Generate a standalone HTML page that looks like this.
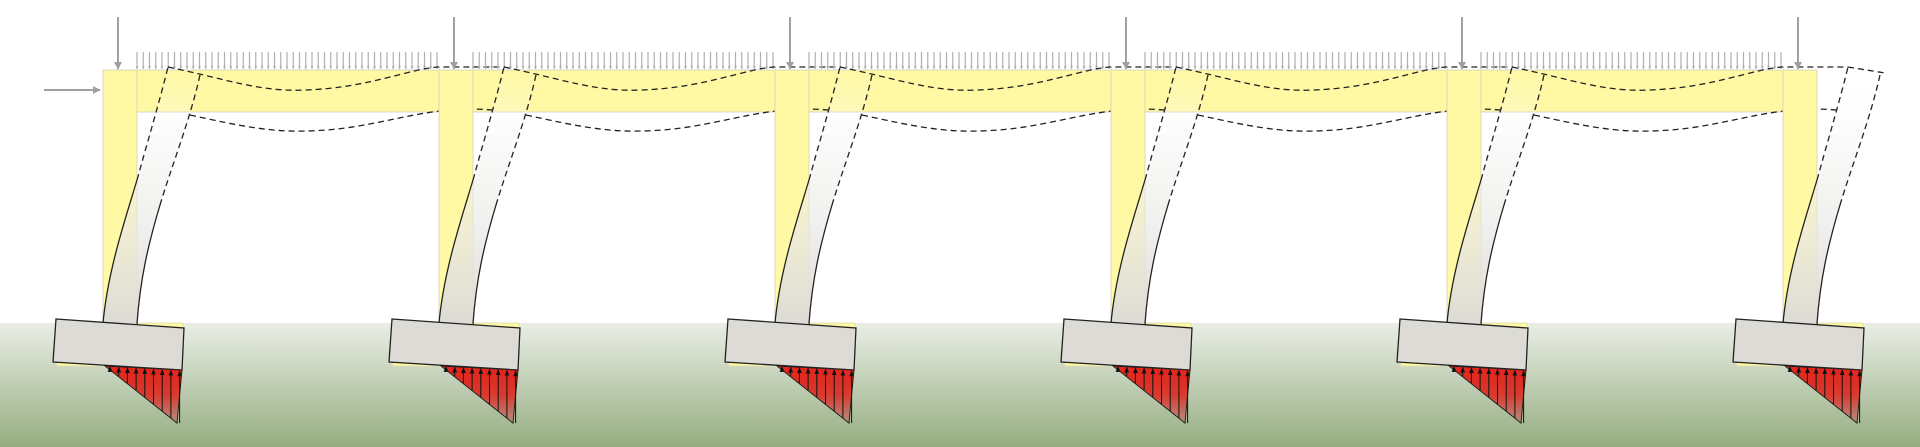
<!DOCTYPE html>
<html><head><meta charset="utf-8"><style>
html,body{margin:0;padding:0;background:#fff;width:1920px;height:447px;overflow:hidden}
svg{display:block}
</style></head><body>
<svg id="s" width="1920" height="447" viewBox="0 0 1920 447" xmlns="http://www.w3.org/2000/svg">
<defs>
<linearGradient id="gr" x1="0" y1="0" x2="0" y2="1">
<stop offset="0" stop-color="#eaeee6"/><stop offset="1" stop-color="#95ad80"/></linearGradient>
<linearGradient id="col" x1="0" y1="0" x2="0" y2="1">
<stop offset="0" stop-color="#ffffff" stop-opacity="0"/><stop offset="0.35" stop-color="#f2f2f0" stop-opacity="0.5"/><stop offset="1" stop-color="#dddbd5"/></linearGradient>
<linearGradient id="red" x1="0" y1="0" x2="0" y2="1">
<stop offset="0" stop-color="#e3231c"/><stop offset="0.5" stop-color="#d8392e"/><stop offset="1" stop-color="#b59080"/></linearGradient>
<marker id="ga" viewBox="0 0 10 10" refX="9" refY="5" markerWidth="4" markerHeight="4" orient="auto"><path d="M0,0L10,5L0,10z" fill="#a0a0a0"/></marker>
<marker id="gs" viewBox="0 0 10 10" refX="9" refY="5" markerWidth="3" markerHeight="3" orient="auto"><path d="M0,1L10,5L0,9z" fill="#b0b0b0"/></marker>
<marker id="ba" viewBox="0 0 10 10" refX="9" refY="5" markerWidth="6" markerHeight="6" orient="auto"><path d="M0,1L10,5L0,9z" fill="#111"/></marker>
</defs>
<rect x="0" y="323" width="1920" height="124" fill="url(#gr)"/>
<g id="g"></g>
</svg>
<script>
var g=document.getElementById('g'),h='';
h+='<rect x="103" y="70" width="1714" height="42" fill="#fff9a4" stroke="#d8d8c0" stroke-width="1"/>';
h+='<line x1="44" y1="90" x2="100" y2="90" stroke="#a0a0a0" stroke-width="2" marker-end="url(#ga)"/>';
for(var i=0;i<6;i++){var d=i*336;
 h+='<g transform="translate('+d+',0)">';
 h+='<rect x="103" y="70" width="34" height="255" fill="#fff9a4" stroke="#d8d8c0" stroke-width="1"/>';
 h+='<rect x="57" y="323" width="126" height="43" fill="#fff9a4" stroke="#e0e0b0" stroke-width="1"/>';
 h+='<line x1="118" y1="17" x2="118" y2="69" stroke="#a0a0a0" stroke-width="2" marker-end="url(#ga)"/>';
 if(i<5){for(var k=0;k<49;k++){var x=137+k*6.25;h+='<line x1="'+x+'" y1="52" x2="'+x+'" y2="69" stroke="#b0b0b0" stroke-width="1.2" marker-end="url(#gs)"/>';}}
 h+='<path d="M103,323 C108,270 125,220 137,180 C148,140 160,100 168,67 L200,75 C190,120 172,165 160,205 C148,245 140,280 137,324 Z" fill="url(#col)"/>';
 h+='<path d="M103,323 C108,270 125,220 137,180" fill="none" stroke="#222" stroke-width="1.3"/>';
 h+='<path d="M137,324 C140,280 148,245 160,205" fill="none" stroke="#222" stroke-width="1.3"/>';
 h+='<path d="M137,180 C148,140 160,100 168,67" fill="none" stroke="#222" stroke-width="1.3" stroke-dasharray="6,4"/>';
 h+='<path d="M160,205 C172,165 190,120 200,75" fill="none" stroke="#222" stroke-width="1.3" stroke-dasharray="6,4"/>';
 if(i<5){
  h+='<path d="M168,67 C230,80 260,92 305,90 C370,88 410,68 440,67 L504,67" fill="none" stroke="#222" stroke-width="1.3" stroke-dasharray="6,4"/>';
  h+='<path d="M190,115 C240,126 270,132 305,131 C380,130 420,104 493,110" fill="none" stroke="#222" stroke-width="1.3" stroke-dasharray="6,4"/>';
 } else {
  h+='<path d="M168,67 L205,73" fill="none" stroke="#222" stroke-width="1.3" stroke-dasharray="6,4"/>';
 }
 h+='<polygon points="56,319 184,328 182,370 53,362" fill="#dcdbd6" stroke="#222" stroke-width="1.3"/>';
 h+='<polygon points="105,366 182,370 177,423" fill="url(#red)" stroke="#222" stroke-width="1"/>';
 for(var k=0;k<9;k++){var x=110+k*8.7;var yb=365+(x-105)*58/72;var yt=362+(x-53)*8/129+1;if(yb>423)yb=423;
  h+='<line x1="'+x+'" y1="'+yb+'" x2="'+x+'" y2="'+yt+'" stroke="#111" stroke-width="1" marker-end="url(#ba)"/>';}
 h+='</g>';
}
g.innerHTML=h;
</script>
</body></html>
